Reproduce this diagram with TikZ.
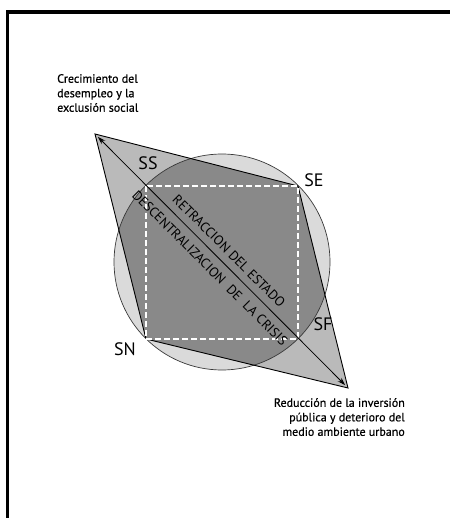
\documentclass[tikz,border=0pt]{standalone}
\usepackage{fontspec}
\setmainfont{PT Sans}
\newfontfamily\notefont[FakeBold=0.6]{PT Sans}
\usepackage{tikz}
\usetikzlibrary{arrows.meta, positioning, calc}
\definecolor{zonelight}{HTML}{DADADA}
\definecolor{zonemid}{HTML}{BABABA}
\definecolor{zonedark}{HTML}{898989}
\definecolor{edgegray}{HTML}{3A3A3A}

\begin{document}
\begin{tikzpicture}[
    x=1pt, y=-1pt,
    corner/.style={font=\fontsize{18}{20}\selectfont, inner sep=0pt},
    axistext/.style={font=\fontsize{13.5}{16}\selectfont, rotate=-45, inner sep=0pt},
    note/.style={font=\notefont\fontsize{12}{14.5}\selectfont, inner sep=0pt},
]
\useasboundingbox (0,0) rectangle (450,518);

% frame (open at the bottom and right)
\draw[line width=3.5pt] (7.5,518) -- (7.5,12) -- (450,12);

% main points
\coordinate (apexSS) at (95,134);
\coordinate (apexSF) at (348,388);
\coordinate (cSE) at (298,186);
\coordinate (cSN) at (146,339);
\coordinate (centre) at (222,262);

% circle and kite fills
\fill[zonelight] (centre) circle[radius=108];
\fill[zonemid] (apexSS) -- (cSE) -- (apexSF) -- (cSN) -- cycle;
\begin{scope}
  \clip (apexSS) -- (cSE) -- (apexSF) -- (cSN) -- cycle;
  \fill[zonedark] (centre) circle[radius=108];
\end{scope}

% outlines
\draw[edgegray, line width=0.7pt] (centre) circle[radius=108];
\draw[black, line width=0.9pt, line join=miter] (apexSS) -- (cSE) -- (apexSF) -- (cSN) -- cycle;
\draw[white, line width=1.1pt, dash pattern=on 6pt off 3pt] (146,186) rectangle (298,339);

% diagonal axis
\draw[black, line width=0.8pt, {Stealth[length=8pt,width=5pt]}-{Stealth[length=8pt,width=5pt]}] ($(apexSS)!4pt!(apexSF)$) -- ($(apexSF)!4pt!(apexSS)$);

% labels of the corners
\node[corner] (lblSS) at (148,163) {SS};
\node[corner] (lblSE) at (314,180) {SE};
\node[corner] (lblSN) at (125,349) {SN};
\node[corner] (lblSF) at (323,324) {SF};

% texts along the axis
\node[axistext] (retract) at (229,251) {RETRACCION DEL ESTADO};
\node[axistext] (descent) at (210,268) {DESCENTRALIZACION\ \ DE\ \ LA CRISIS};

% side notes
\node[note, align=left, anchor=north west] (noteSS) at (57,74) {Crecimiento del\\desempleo y la\\exclusión social};
\node[note, align=right, anchor=north east] (noteSF) at (405,398) {Reducción de la inversión\\pública y deterioro del\\medio ambiente urbano};

\end{tikzpicture}
\end{document}
